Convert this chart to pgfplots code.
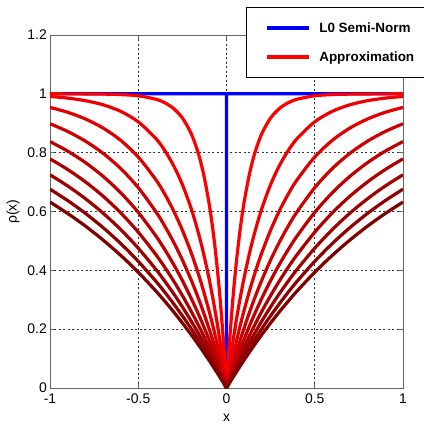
\documentclass[border=0pt]{standalone}
\usepackage{fontspec}
\setmainfont{Liberation Sans}
\usepackage{pgfplots}
\usepackage{pgfplotstable}
\pgfplotsset{compat=1.18}

% red shades, bright (small sigma) to dark (large sigma)
\definecolor{c1}{RGB}{255,0,0}
\definecolor{c2}{RGB}{239,0,0}
\definecolor{c3}{RGB}{223,0,0}
\definecolor{c4}{RGB}{207,0,0}
\definecolor{c5}{RGB}{191,0,0}
\definecolor{c6}{RGB}{175,0,0}
\definecolor{c7}{RGB}{159,0,0}
\definecolor{c8}{RGB}{143,0,0}
\definecolor{c9}{RGB}{128,0,0}

\pgfplotstableread{
x     s1     s2     s3     s4     s5     s6     s7     s8     s9
-1.00 1.0000 0.9910 0.9539 0.8983 0.8377 0.7789 0.7248 0.6759 0.6321
-0.90 0.9999 0.9855 0.9373 0.8722 0.8053 0.7429 0.6869 0.6372 0.5934
-0.80 0.9997 0.9768 0.9147 0.8394 0.7665 0.7010 0.6438 0.5940 0.5507
-0.70 0.9991 0.9629 0.8840 0.7981 0.7199 0.6524 0.5947 0.5456 0.5034
-0.60 0.9975 0.9406 0.8421 0.7463 0.6641 0.5957 0.5389 0.4914 0.4512
-0.50 0.9933 0.9049 0.7853 0.6811 0.5971 0.5298 0.4754 0.4307 0.3935
-0.40 0.9817 0.8478 0.7079 0.5992 0.5168 0.4533 0.4032 0.3628 0.3297
-0.35 0.9698 0.8074 0.6594 0.5507 0.4708 0.4104 0.3634 0.3259 0.2953
-0.30 0.9502 0.7563 0.6027 0.4963 0.4205 0.3641 0.3210 0.2868 0.2592
-0.25 0.9179 0.6917 0.5366 0.4353 0.3652 0.3143 0.2757 0.2455 0.2212
-0.20 0.8647 0.6099 0.4596 0.3669 0.3049 0.2606 0.2275 0.2018 0.1813
-0.16 0.7981 0.5290 0.3888 0.3063 0.2524 0.2145 0.1866 0.1650 0.1479
-0.13 0.7275 0.4576 0.3297 0.2570 0.2105 0.1782 0.1544 0.1363 0.1219
-0.10 0.6321 0.3754 0.2648 0.2043 0.1662 0.1401 0.1210 0.1066 0.0952
-0.08 0.5507 0.3137 0.2182 0.1671 0.1354 0.1138 0.0981 0.0862 0.0769
-0.06 0.4512 0.2460 0.1686 0.1281 0.1034 0.0866 0.0745 0.0654 0.0582
-0.04 0.3297 0.1716 0.1158 0.0874 0.0701 0.0586 0.0503 0.0441 0.0392
-0.02 0.1813 0.0898 0.0597 0.0447 0.0357 0.0297 0.0255 0.0223 0.0198
-0.01 0.0952 0.0460 0.0303 0.0226 0.0180 0.0150 0.0128 0.0112 0.0100
 0.00 0.0000 0.0000 0.0000 0.0000 0.0000 0.0000 0.0000 0.0000 0.0000
 0.01 0.0952 0.0460 0.0303 0.0226 0.0180 0.0150 0.0128 0.0112 0.0100
 0.02 0.1813 0.0898 0.0597 0.0447 0.0357 0.0297 0.0255 0.0223 0.0198
 0.04 0.3297 0.1716 0.1158 0.0874 0.0701 0.0586 0.0503 0.0441 0.0392
 0.06 0.4512 0.2460 0.1686 0.1281 0.1034 0.0866 0.0745 0.0654 0.0582
 0.08 0.5507 0.3137 0.2182 0.1671 0.1354 0.1138 0.0981 0.0862 0.0769
 0.10 0.6321 0.3754 0.2648 0.2043 0.1662 0.1401 0.1210 0.1066 0.0952
 0.13 0.7275 0.4576 0.3297 0.2570 0.2105 0.1782 0.1544 0.1363 0.1219
 0.16 0.7981 0.5290 0.3888 0.3063 0.2524 0.2145 0.1866 0.1650 0.1479
 0.20 0.8647 0.6099 0.4596 0.3669 0.3049 0.2606 0.2275 0.2018 0.1813
 0.25 0.9179 0.6917 0.5366 0.4353 0.3652 0.3143 0.2757 0.2455 0.2212
 0.30 0.9502 0.7563 0.6027 0.4963 0.4205 0.3641 0.3210 0.2868 0.2592
 0.35 0.9698 0.8074 0.6594 0.5507 0.4708 0.4104 0.3634 0.3259 0.2953
 0.40 0.9817 0.8478 0.7079 0.5992 0.5168 0.4533 0.4032 0.3628 0.3297
 0.50 0.9933 0.9049 0.7853 0.6811 0.5971 0.5298 0.4754 0.4307 0.3935
 0.60 0.9975 0.9406 0.8421 0.7463 0.6641 0.5957 0.5389 0.4914 0.4512
 0.70 0.9991 0.9629 0.8840 0.7981 0.7199 0.6524 0.5947 0.5456 0.5034
 0.80 0.9997 0.9768 0.9147 0.8394 0.7665 0.7010 0.6438 0.5940 0.5507
 0.90 0.9999 0.9855 0.9373 0.8722 0.8053 0.7429 0.6869 0.6372 0.5934
 1.00 1.0000 0.9910 0.9539 0.8983 0.8377 0.7789 0.7248 0.6759 0.6321
}\rhotable

\begin{document}
\begin{tikzpicture}
\useasboundingbox (-50bp,-38bp) rectangle (374bp,388bp);
\begin{axis}[
    scale only axis,
    width=353bp, height=353bp,
    xmin=-1, xmax=1, ymin=0, ymax=1.2,
    xtick={-1,-0.5,0,0.5,1},
    xticklabels={-1,-0.5,0,0.5,1},
    ytick={0,0.2,0.4,0.6,0.8,1,1.2},
    yticklabels={0,0.2,0.4,0.6,0.8,1,1.2},
    tick align=inside,
    major tick length=4bp,
    axis line style={black!60, line width=0.8bp},
    tick style={black!60, line width=0.8bp},
    grid=major,
    major grid style={black!80, line width=0.7bp, dash pattern=on 2bp off 2.5bp},
    tick label style={font=\fontsize{14}{16}\selectfont, inner sep=2bp},
    xticklabel style={yshift=-4bp},
    yticklabel style={xshift=-1bp},
    xlabel={x}, ylabel={ρ(x)},
    label style={font=\fontsize{14}{16}\selectfont},
    xlabel style={at={(axis description cs:0.5,-0.0935)}, anchor=base},
    ylabel style={at={(axis description cs:-0.105,0.5)}, anchor=center},
    every axis plot/.append style={line width=3.2bp, line join=round},
    legend cell align=left,
    legend image code/.code={%
        \draw[#1, line width=4bp] (0bp,0bp) -- (42bp,0bp);},
    legend style={at={(axis description cs:0.555,1.0793)}, anchor=north west,
        draw=black, line width=0.8bp, fill=white,
        font=\bfseries\fontsize{13.5}{16}\selectfont,
        inner xsep=19bp, inner ysep=15bp, row sep=18bp,
        nodes={inner sep=0bp},
        /tikz/every odd column/.append style={column sep=8bp}},
]
\addplot[blue] coordinates {(-1,1) (-0.0001,1) (0,0) (0.0001,1) (1,1)};
\addplot[c1, smooth, restrict x to domain=-1:0] table[x=x, y=s1] {\rhotable};
\addplot[c1, smooth, forget plot, restrict x to domain=0:1] table[x=x, y=s1] {\rhotable};
\addplot[c2, smooth, forget plot, restrict x to domain=-1:0] table[x=x, y=s2] {\rhotable};
\addplot[c2, smooth, forget plot, restrict x to domain=0:1] table[x=x, y=s2] {\rhotable};
\addplot[c3, smooth, forget plot, restrict x to domain=-1:0] table[x=x, y=s3] {\rhotable};
\addplot[c3, smooth, forget plot, restrict x to domain=0:1] table[x=x, y=s3] {\rhotable};
\addplot[c4, smooth, forget plot, restrict x to domain=-1:0] table[x=x, y=s4] {\rhotable};
\addplot[c4, smooth, forget plot, restrict x to domain=0:1] table[x=x, y=s4] {\rhotable};
\addplot[c5, smooth, forget plot, restrict x to domain=-1:0] table[x=x, y=s5] {\rhotable};
\addplot[c5, smooth, forget plot, restrict x to domain=0:1] table[x=x, y=s5] {\rhotable};
\addplot[c6, smooth, forget plot, restrict x to domain=-1:0] table[x=x, y=s6] {\rhotable};
\addplot[c6, smooth, forget plot, restrict x to domain=0:1] table[x=x, y=s6] {\rhotable};
\addplot[c7, smooth, forget plot, restrict x to domain=-1:0] table[x=x, y=s7] {\rhotable};
\addplot[c7, smooth, forget plot, restrict x to domain=0:1] table[x=x, y=s7] {\rhotable};
\addplot[c8, smooth, forget plot, restrict x to domain=-1:0] table[x=x, y=s8] {\rhotable};
\addplot[c8, smooth, forget plot, restrict x to domain=0:1] table[x=x, y=s8] {\rhotable};
\addplot[c9, smooth, forget plot, restrict x to domain=-1:0] table[x=x, y=s9] {\rhotable};
\addplot[c9, smooth, forget plot, restrict x to domain=0:1] table[x=x, y=s9] {\rhotable};
\legend{L0 Semi-Norm, Approximation}
\end{axis}
\end{tikzpicture}
\end{document}
